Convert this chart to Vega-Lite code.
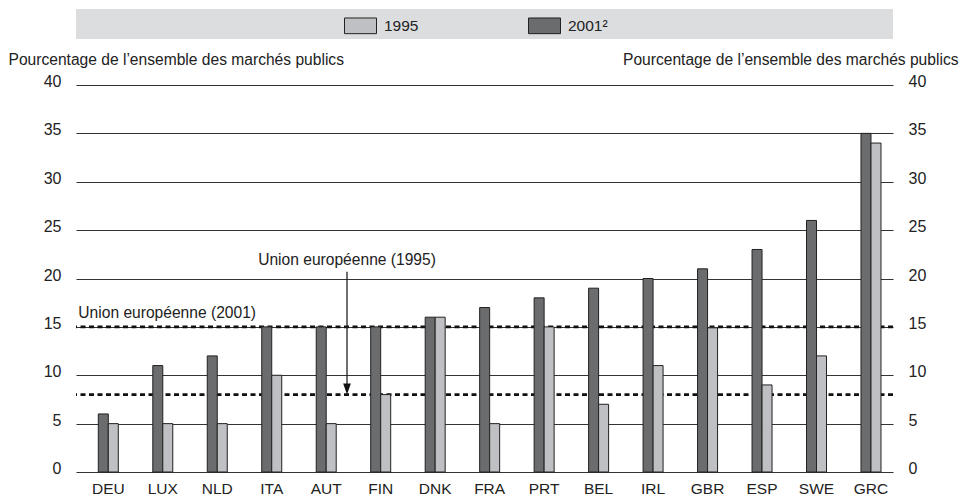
{
  "$schema": "https://vega.github.io/schema/vega-lite/v6.json",
  "padding": {"left": 8, "top": 9, "right": 5, "bottom": 0},
  "background": "white",
  "bounds": "flush",
  "spacing": 46,
  "config": {
    "view": {"stroke": null},
    "font": "Liberation Sans, Arial, sans-serif",
    "text": {"font": "Liberation Sans, Arial, sans-serif"}
  },
  "datasets": {
    "procurement": [
      {"country": "DEU", "year": "2001", "share": 6}, {"country": "DEU", "year": "1995", "share": 5},
      {"country": "LUX", "year": "2001", "share": 11}, {"country": "LUX", "year": "1995", "share": 5},
      {"country": "NLD", "year": "2001", "share": 12}, {"country": "NLD", "year": "1995", "share": 5},
      {"country": "ITA", "year": "2001", "share": 15}, {"country": "ITA", "year": "1995", "share": 10},
      {"country": "AUT", "year": "2001", "share": 15}, {"country": "AUT", "year": "1995", "share": 5},
      {"country": "FIN", "year": "2001", "share": 15}, {"country": "FIN", "year": "1995", "share": 8},
      {"country": "DNK", "year": "2001", "share": 16}, {"country": "DNK", "year": "1995", "share": 16},
      {"country": "FRA", "year": "2001", "share": 17}, {"country": "FRA", "year": "1995", "share": 5},
      {"country": "PRT", "year": "2001", "share": 18}, {"country": "PRT", "year": "1995", "share": 15},
      {"country": "BEL", "year": "2001", "share": 19}, {"country": "BEL", "year": "1995", "share": 7},
      {"country": "IRL", "year": "2001", "share": 20}, {"country": "IRL", "year": "1995", "share": 11},
      {"country": "GBR", "year": "2001", "share": 21}, {"country": "GBR", "year": "1995", "share": 14.9},
      {"country": "ESP", "year": "2001", "share": 23}, {"country": "ESP", "year": "1995", "share": 9},
      {"country": "SWE", "year": "2001", "share": 26}, {"country": "SWE", "year": "1995", "share": 12},
      {"country": "GRC", "year": "2001", "share": 35}, {"country": "GRC", "year": "1995", "share": 34}
    ],
    "eu": [
      {"label": "Union européenne (2001)", "year": "2001", "value": 15, "anchor": "DEU"},
      {"label": "Union européenne (1995)", "year": "1995", "value": 8, "anchor": "AUT"}
    ]
  },
  "vconcat": [
    {
      "width": 817,
      "height": 30,
      "view": {"fill": "#dcdddf", "stroke": null},
      "data": {"values": [{}]},
      "mark": {"type": "rect", "color": "#dcdddf"},
      "encoding": {}
    },
    {
      "width": 817,
      "height": 387,
      "layer": [
        {
          "data": {"name": "eu"},
          "mark": {"type": "rule", "color": "#111", "strokeWidth": 2.8, "strokeDash": [5, 3.5]},
          "encoding": {
            "y": {
              "field": "value", "type": "quantitative",
              "scale": {"domain": [0, 40], "nice": false},
              "axis": {
                "orient": "right", "values": [0, 5, 10, 15, 20, 25, 30, 35, 40],
                "grid": false, "ticks": false, "domain": false,
                "labelPadding": 15, "labelFontSize": 16, "labelColor": "#222",
                "labelBaseline": "alphabetic", "labelOffset": 1.5,
                "title": "Pourcentage de l’ensemble des marchés publics",
                "titleAngle": 0, "titleAlign": "right", "titleBaseline": "alphabetic",
                "titleX": 65, "titleY": -21, "titleFontSize": 15.6, "titleFontWeight": "normal", "titleColor": "#222"
              }
            }
          }
        },
        {
          "data": {"name": "procurement"},
          "mark": {"type": "bar", "stroke": "#222", "strokeWidth": 1},
          "encoding": {
            "x": {
              "field": "country", "type": "nominal",
              "scale": {
                "domain": ["DEU", "LUX", "NLD", "ITA", "AUT", "FIN", "DNK", "FRA", "PRT", "BEL", "IRL", "GBR", "ESP", "SWE", "GRC"],
                "paddingInner": 0.633, "paddingOuter": 0.315, "align": 0.65
              },
              "axis": {
                "title": null, "labelAngle": 0, "ticks": false, "domain": false,
                "labelPadding": 21.5, "labelBaseline": "alphabetic",
                "labelFontSize": 15.5, "labelColor": "#222"
              }
            },
            "xOffset": {
              "field": "year", "type": "nominal",
              "scale": {"domain": ["2001", "1995"], "paddingInner": 0, "paddingOuter": 0}
            },
            "y": {
              "field": "share", "type": "quantitative",
              "scale": {"domain": [0, 40], "nice": false},
              "axis": {
                "orient": "left", "values": [0, 5, 10, 15, 20, 25, 30, 35, 40],
                "grid": true, "gridColor": "#333", "gridWidth": 1.2,
                "ticks": false, "domain": false,
                "labelPadding": 15, "labelFontSize": 16, "labelColor": "#222",
                "labelBaseline": "alphabetic", "labelOffset": 1.5,
                "title": "Pourcentage de l’ensemble des marchés publics",
                "titleAngle": 0, "titleAlign": "left", "titleBaseline": "alphabetic",
                "titleX": -68, "titleY": -21, "titleFontSize": 15.6, "titleFontWeight": "normal", "titleColor": "#222"
              }
            },
            "color": {
              "field": "year", "type": "nominal",
              "scale": {"domain": ["1995", "2001"], "range": ["#bfc0c3", "#6b6c6e"]},
              "legend": {
                "orient": "none", "legendX": 268, "legendY": 0, "direction": "horizontal",
                "title": null, "padding": 0,
                "symbolType": "M-1,-0.49H1V0.49H-1Z", "symbolSize": 1024,
                "symbolStrokeColor": "#222", "symbolStrokeWidth": 1, "symbolOpacity": 1,
                "labelFontSize": 15.5, "labelOffset": 7, "columnPadding": 107, "labelColor": "#222",
                "labelExpr": "datum.label == '2001' ? '2001²' : datum.label"
              }
            }
          }
        },
        {
          "data": {"name": "eu"},
          "transform": [{"filter": "datum.year == '2001'"}],
          "mark": {"type": "text", "align": "left", "baseline": "alphabetic", "dy": -9, "fontSize": 15.6, "color": "#222"},
          "encoding": {
            "x": {"field": "anchor", "type": "nominal", "bandPosition": -1.0, "axis": null},
            "y": {"field": "value", "type": "quantitative", "axis": null},
            "text": {"field": "label"}
          }
        },
        {
          "data": {"name": "eu"},
          "transform": [{"filter": "datum.year == '1995'"}],
          "mark": {"type": "text", "align": "center", "baseline": "alphabetic", "fontSize": 15.6, "color": "#222"},
          "encoding": {
            "x": {"field": "anchor", "type": "nominal", "bandPosition": 1.54, "axis": null},
            "y": {"datum": 21.4, "type": "quantitative", "axis": null},
            "text": {"field": "label"}
          }
        },
        {
          "data": {"name": "eu"},
          "transform": [{"filter": "datum.year == '1995'"}],
          "mark": {"type": "rule", "color": "#222", "strokeWidth": 1.3},
          "encoding": {
            "x": {"field": "anchor", "type": "nominal", "bandPosition": 1.54, "axis": null},
            "y": {"datum": 20.7, "type": "quantitative", "axis": null},
            "y2": {"datum": 8.6}
          }
        },
        {
          "data": {"name": "eu"},
          "transform": [{"filter": "datum.year == '1995'"}],
          "mark": {"type": "point", "shape": "M-0.7,-2L0.7,-2L0,0Z", "size": 121, "filled": true, "opacity": 1, "color": "#111"},
          "encoding": {
            "x": {"field": "anchor", "type": "nominal", "bandPosition": 1.54, "axis": null},
            "y": {"field": "value", "type": "quantitative", "axis": null}
          }
        }
      ],
      "resolve": {"axis": {"y": "independent", "x": "independent"}}
    }
  ]
}
